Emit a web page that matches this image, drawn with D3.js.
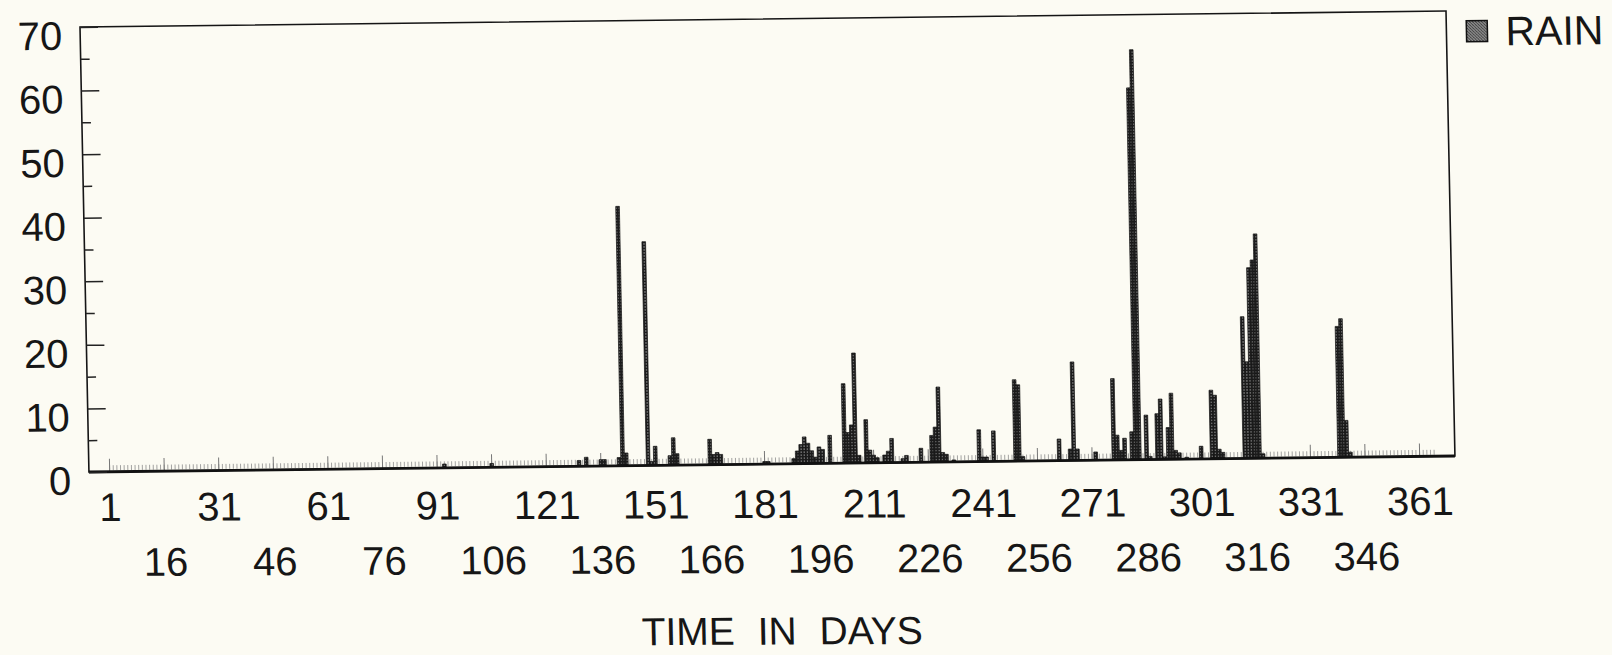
<!DOCTYPE html>
<html>
<head>
<meta charset="utf-8">
<script src="https://cdn.jsdelivr.net/npm/d3@7"></script>
<style>
  body { margin: 0; background: #fcfbf3; }
  svg { display: block; }
  text { font-family: 'Liberation Sans', Arial, sans-serif; fill: #161616; }
</style>
</head>
<body>
<script>
/*
  daily rain for one year.
  only days with a visible bar are listed, every other day is 0
*/

var rainDays = [
  93, 106, 130, 132, 136, 137, 141, 142, 143, 149, 150, 151, 155, 156, 157,
  166, 167, 168, 169, 181, 182, 189, 190, 191, 192, 193, 194, 195, 196, 197,
  199, 203, 204, 205, 206, 207, 209, 210, 211, 212, 214, 215, 216, 219, 220,
  224, 227, 228, 229, 230, 231, 233, 240, 241, 242, 244, 250, 251, 252, 262,
  265, 266, 267, 272, 277, 278, 279, 280, 282, 283, 284, 286, 287, 289, 290,
  291, 292, 293, 294, 295, 297, 301, 304, 305, 306, 307, 313, 314, 315, 316,
  317, 318, 339, 340, 341, 342];

var rainMm = [
  0.6, 0.6, 0.9, 1.4, 1.0, 1.0, 1.3, 40.8, 2.0, 35.2, 0.6, 3.0, 1.5, 4.3, 1.8,
  4.0, 1.6, 1.9, 1.6, 0.4, 0.4, 0.8, 2.0, 3.0, 4.2, 3.2, 2.0, 1.0, 2.6, 2.2,
  4.4, 12.5, 4.8, 6.0, 17.3, 1.2, 6.8, 2.0, 1.2, 0.8, 1.2, 1.8, 3.8, 0.6, 1.1,
  2.2, 4.2, 5.5, 11.8, 1.5, 1.2, 0.3, 5.0, 0.7, 0.7, 4.8, 12.8, 12.0, 0.7, 3.4,
  1.8, 15.5, 1.8, 1.3, 12.8, 3.9, 1.5, 3.4, 4.4, 58.5, 64.5, 7.0, 0.5, 7.2, 9.5,
  0.4, 5.0, 10.4, 1.4, 1.0, 0.3, 2.0, 10.8, 10.0, 1.5, 1.0, 22.3, 15.2, 30.0, 31.2,
  35.3, 0.7, 20.6, 21.8, 5.8, 0.8];

var days = d3.range(1, 366);
var topRowLabels = [1, 31, 61, 91, 121, 151, 181, 211, 241, 271, 301, 331, 361];
var bottomRowLabels = [16, 46, 76, 106, 136, 166, 196, 226, 256, 286, 316, 346];
var yLabels = [0, 10, 20, 30, 40, 50, 60, 70];
var yMinor = [5, 15, 25, 35, 45, 55, 65];
var dayTicks = [1, 16, 31, 46, 61, 76, 91, 106, 121, 136, 151, 166, 181, 196, 211,
  226, 241, 256, 271, 286, 301, 316, 331, 346, 361];

var rain = rainDays.map(function (d, i) {
  return {day: d, mm: rainMm[i]};
});

var w = 1366, h = 445;

var svg = d3.select('body').append('svg')
    .attr('width', 1612)
    .attr('height', 655);

var defs = svg.append('defs');

// speckled fill of the bars
var stip = defs.append('pattern')
    .attr('id', 'stip')
    .attr('width', 3).attr('height', 3)
    .attr('patternUnits', 'userSpaceOnUse');
stip.append('rect').attr('width', 3).attr('height', 3).attr('fill', '#1c1c1c');
stip.append('rect').attr('x', 1).attr('y', 1).attr('width', 1).attr('height', 1).attr('fill', '#c8c8c8');

// legend swatch, finer checker
var leg = defs.append('pattern')
    .attr('id', 'legpat')
    .attr('width', 3).attr('height', 3)
    .attr('patternUnits', 'userSpaceOnUse');
leg.append('rect').attr('width', 3).attr('height', 3).attr('fill', '#3a3a3a');
leg.append('rect').attr('x', 0).attr('y', 0).attr('width', 1).attr('height', 1).attr('fill', '#d8d8d8');
leg.append('rect').attr('x', 1).attr('y', 1).attr('width', 1).attr('height', 1).attr('fill', '#d8d8d8');
leg.append('rect').attr('x', 2).attr('y', 2).attr('width', 1).attr('height', 1).attr('fill', '#d8d8d8');

// the scan is a little skewed, so the whole chart sits in a skewed group
var g = svg.append('g')
    .attr('transform', 'matrix(1,-0.0117,0.0201,1,80,27)');
// the day labels under it are tilted less
var gl = svg.append('g')
    .attr('transform', 'matrix(1,-0.0045,0.0201,1,80,27)');

var xScale = d3.scaleBand()
    .domain(days)
    .range([0, w])
    .paddingOuter(5.2)
    .paddingInner(0);

var yScale = d3.scaleLinear()
    .domain([0, 70])
    .range([h, 0]);

// daily hatch along the base
var dailyAxis = d3.axisBottom(xScale).tickValues(days).tickSize(-5).tickFormat('');
g.append('g')
    .attr('class', 'daily')
    .attr('transform', 'translate(0,' + (h - 1.5) + ')')
    .call(dailyAxis);

var fifteenAxis = d3.axisBottom(xScale).tickValues(dayTicks).tickSize(-13).tickFormat('');
g.append('g')
    .attr('class', 'fifteen')
    .attr('transform', 'translate(0,' + h + ')')
    .call(fifteenAxis);

g.selectAll('.daily .tick line').attr('stroke', '#8c8c8c').attr('stroke-width', 0.8);
g.selectAll('.fifteen .tick line').attr('stroke', '#777').attr('stroke-width', 1);
g.selectAll('.daily .domain, .fifteen .domain').remove();

// bars
g.selectAll('rect.bar')
  .data(rain)
  .enter()
  .append('rect')
  .attr('class', 'bar')
  .attr('x', function (d) {
    return xScale(d.day);
  })
  .attr('y', function (d) {
    return yScale(d.mm);
  })
  .attr('width', xScale.bandwidth())
  .attr('height', function (d) {
    return h - yScale(d.mm);
  })
  .attr('fill', 'url(#stip)')
  .attr('stroke', '#111')
  .attr('stroke-width', 0.7);

// frame
g.append('rect')
    .attr('x', 0).attr('y', 0)
    .attr('width', w).attr('height', h)
    .attr('fill', 'none')
    .attr('stroke', '#151515')
    .attr('stroke-width', 1.6);
g.append('line')
    .attr('x1', 0).attr('x2', w)
    .attr('y1', h).attr('y2', h)
    .attr('stroke', '#111')
    .attr('stroke-width', 2.8);

// y axis, ticks point into the plot
var yAxis = d3.axisLeft(yScale).tickValues(yLabels).tickSize(-18).tickPadding(18);
var yAxisMinor = d3.axisLeft(yScale).tickValues(yMinor).tickSize(-9).tickFormat('');

g.append('g').attr('class', 'ymin').call(yAxisMinor);
g.append('g').attr('class', 'ymaj').call(yAxis);

g.selectAll('.ymin .domain, .ymaj .domain').remove();
g.selectAll('.ymin line, .ymaj line').attr('stroke', '#222').attr('stroke-width', 1.5);
g.selectAll('.ymaj text')
    .attr('y', 8)
    .attr('dy', '0.35em')
    .attr('font-size', 40)
    .attr('font-family', null)
    .attr('fill', '#161616');

// x labels, two staggered rows
var xTop = d3.axisBottom(xScale).tickValues(topRowLabels).tickSize(0);
var xBottom = d3.axisBottom(xScale).tickValues(bottomRowLabels).tickSize(0);

gl.append('g').attr('class', 'xtop')
    .attr('transform', 'translate(0,' + h + ')')
    .call(xTop);
gl.append('g').attr('class', 'xbot')
    .attr('transform', 'translate(0,' + h + ')')
    .call(xBottom);

gl.selectAll('.xtop .domain, .xbot .domain').remove();
gl.selectAll('.xtop text').attr('y', 35);
gl.selectAll('.xbot text').attr('y', 90);
gl.selectAll('.xtop text, .xbot text')
    .attr('dy', '0.35em')
    .attr('font-size', 40)
    .attr('font-family', null)
    .attr('fill', '#161616');

gl.append('text')
    .attr('x', w / 2 + 7)
    .attr('y', h + 162)
    .attr('dy', '0.35em')
    .attr('text-anchor', 'middle')
    .attr('font-size', 39)
    .attr('word-spacing', 12)
    .text('TIME IN DAYS');

// legend
g.append('rect')
    .attr('x', 1386).attr('y', 10)
    .attr('width', 21).attr('height', 21)
    .attr('fill', 'url(#legpat)')
    .attr('stroke', '#111')
    .attr('stroke-width', 1.5);
g.append('text')
    .attr('x', 1425)
    .attr('y', 35)
    .attr('font-size', 41)
    .text('RAIN');
</script>
</body>
</html>
